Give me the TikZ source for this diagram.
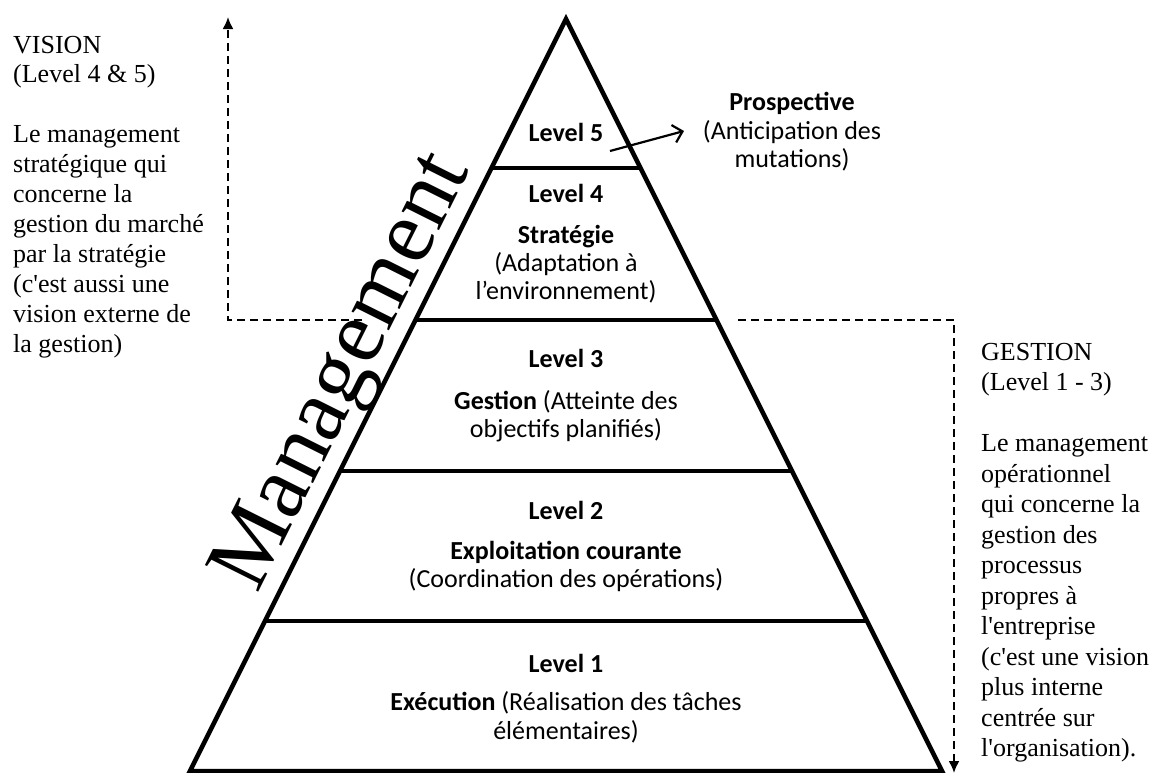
\documentclass[tikz,border=0pt]{standalone}
\usepackage{fontspec}
\setmainfont{Liberation Serif}[Ligatures=TeXOff]
\newfontfamily\calibri{Carlito}
\usetikzlibrary{arrows.meta,calc}
\begin{document}
\begin{tikzpicture}[x=1pt,y=-1pt,
  pyr/.style={line width=4.5pt, line join=miter},
  lvl/.style={line width=4.5pt},
  dashline/.style={line width=2pt, dash pattern=on 8pt off 5pt},
  sidetext/.style={anchor=base west, inner sep=0pt, font=\fontsize{26}{30}\selectfont},
  pyrtext/.style={anchor=base, inner sep=0pt, font=\calibri\fontsize{26}{29}\selectfont},
  pyrbold/.style={anchor=base, inner sep=0pt, font=\calibri\bfseries\fontsize{26}{29}\selectfont},
  mgmt/.style={anchor=base, inner sep=0pt, font=\fontsize{91}{91}\selectfont, rotate=63.43},
]
\useasboundingbox (0,0) rectangle (1161,772);

% pyramid
\coordinate (A) at (566,19);
\coordinate (BL) at (190,771);
\coordinate (BR) at (942,771);
\draw[pyr] (BL) -- (A) -- (BR) -- cycle;
\foreach \yy in {168,320,471,621}
  \draw[lvl] ({566-0.5*(\yy-19)},\yy) -- ({566+0.5*(\yy-19)},\yy);

% level texts
\node[pyrbold] (l5) at (566,141) {Level 5};

\node[pyrbold] (l4) at (566,202) {Level 4};
\node[pyrbold] (l4a) at (566,243) {Stratégie};
\node[pyrtext] (l4b) at (566,271) {(Adaptation à};
\node[pyrtext] (l4c) at (566,299) {l’environnement)};

\node[pyrbold] (l3) at (566,367) {Level 3};
\node[pyrtext] (l3a) at (566,409) {\textbf{Gestion} (Atteinte des};
\node[pyrtext] (l3b) at (566,437) {objectifs planifiés)};

\node[pyrbold] (l2) at (566,519) {Level 2};
\node[pyrbold] (l2a) at (566,559) {Exploitation courante};
\node[pyrtext] (l2b) at (566,587) {(Coordination des opérations)};

\node[pyrbold] (l1) at (566,672) {Level 1};
\node[pyrtext] (l1a) at (566,710) {\textbf{Exécution} (Réalisation des tâches};
\node[pyrtext] (l1b) at (566,739) {élémentaires)};

% prospective
\node[pyrbold] (pr) at (792,110) {Prospective};
\node[pyrtext] (pra) at (792,139) {(Anticipation des};
\node[pyrtext] (prb) at (792,167) {mutations)};
\coordinate (p5s) at (610,151);
\coordinate (p5e) at (684,131);
\draw[line width=2.2pt, -{Straight Barb[length=9pt,width=18pt]}] (p5s) -- (p5e);

% Management
\node[mgmt] (mg) at (364,382) {Management};

% left dashed arrow
\coordinate (lstart) at (362,320);
\coordinate (lcorner) at (228,320);
\coordinate (ltip) at (228,17);
\draw[dashline, -{Latex[length=12pt,width=11pt]}] (lstart) -- (lcorner) -- (ltip);

% right dashed arrow
\coordinate (rstart) at (738,320);
\coordinate (rcorner) at (954,320);
\coordinate (rtip) at (954,773);
\draw[dashline, -{Latex[length=12pt,width=11pt]}] (rstart) -- (rcorner) -- (rtip);

% left text
\foreach \t [count=\i from 0] in {{VISION},{(Level 4 \& 5)},{},{Le management},{stratégique qui},{concerne la},{gestion du marché},{par la stratégie},{(c'est aussi une},{vision externe de},{la gestion)}}
  \node[sidetext] (vis\i) at (13,{53+29.9*\i}) {\t};

% right text
\foreach \t [count=\i from 0] in {{GESTION},{(Level 1 - 3)},{},{Le management},{opérationnel},{qui concerne la},{gestion des},{processus},{propres à},{l'entreprise},{(c'est une vision},{plus interne},{centrée sur},{l'organisation).}}
  \node[sidetext] (ges\i) at (981,{360+30.5*\i}) {\t};
\end{tikzpicture}
\end{document}
